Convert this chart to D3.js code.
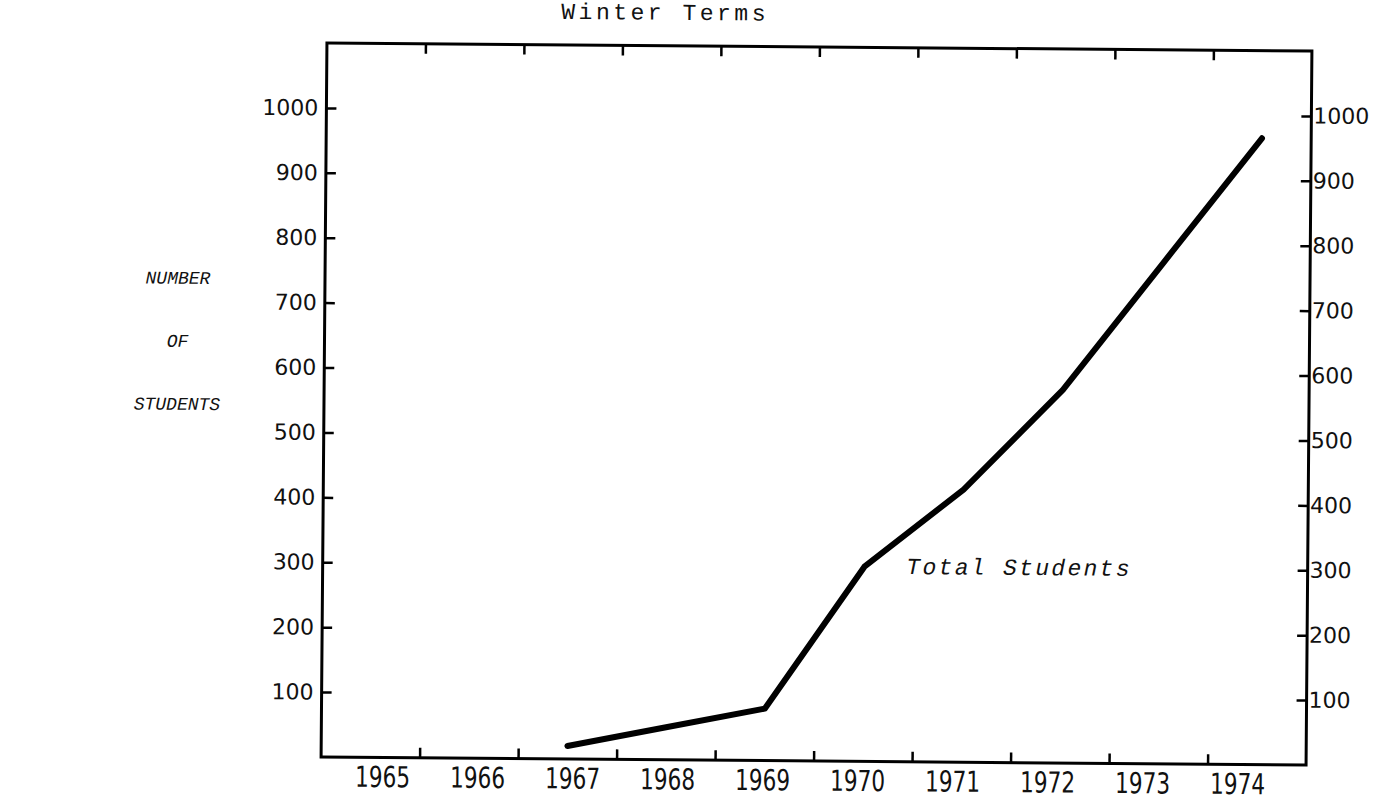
<!DOCTYPE html>
<html lang="en">
<head>
    <meta charset="UTF-8">
    <title>Winter Terms</title>
    <script src="https://d3js.org/d3.v7.min.js"></script>
    <style>
        body { margin: 0; background: #fff; }
    </style>
</head>
<body>
<script>
    // years along the bottom, one band each
    var years = ['1965', '1966', '1967', '1968', '1969', '1970', '1971', '1972', '1973', '1974'];
    // the plotted line (Total Students)
    var lineYears = ['1967', '1968', '1969', '1970', '1971', '1972', '1973', '1974'];
    var totalStudents = [20, 50, 80, 300, 420, 575, 770, 965];
    // left / right tick labels
    var yTicks = [100, 200, 300, 400, 500, 600, 700, 800, 900, 1000];

    var width = 1381
    var height = 804
    var plot = {left: 324, top: 47, width: 985, height: 714}

    var svg = d3.select('body')
            .append('svg')
            .attr('width', width)
            .attr('height', height)

    // the scanned page is a little tilted, so turn the whole drawing slightly
    var cx = plot.left + plot.width / 2
    var cy = plot.top + plot.height / 2
    var page = svg.append('g')
            .attr('transform', 'rotate(0.47,' + cx + ',' + cy + ')')

    var g = page.append('g')
            .attr('transform', 'translate(' + plot.left + ',' + plot.top + ')')

    var y = d3.scaleLinear().domain([0, 1100]).range([plot.height, 0])
    var x = d3.scaleBand().domain(years).range([0, plot.width])
    // tick marks sit on the band edges
    var xEdge = d3.scaleLinear().domain([0, years.length]).range([0, plot.width])
    var edges = d3.range(1, years.length)
    // typed year labels drift a bit narrower than the bands
    var xLabel = d3.scalePoint().domain(years)
            .range([x.bandwidth() / 2 + 12, x.bandwidth() / 2 + 12 + 95 * (years.length - 1)])

    function styleTicks(sel) {
        sel.select('.domain').remove()
        sel.selectAll('line').attr('stroke', '#000').attr('stroke-width', 2.5)
    }

    // left axis
    g.append('g')
            .call(d3.axisLeft(y).tickValues(yTicks).tickSize(-10).tickPadding(8).tickFormat(d3.format('d')))
            .call(styleTicks)
            .selectAll('text')
            .attr('fill', '#111')
            .style('font-family', '"DejaVu Sans", sans-serif')
            .style('font-size', '22px')

    // right axis
    g.append('g')
            .attr('transform', 'translate(' + plot.width + ',0)')
            .call(d3.axisRight(y).tickValues(yTicks).tickSize(-10).tickPadding(2).tickFormat(d3.format('d')))
            .call(styleTicks)
            .selectAll('text')
            .attr('fill', '#111')
            .style('font-family', '"DejaVu Sans", sans-serif')
            .style('font-size', '22px')

    // top ticks
    g.append('g')
            .call(d3.axisTop(xEdge).tickValues(edges).tickSize(-10).tickFormat(''))
            .call(styleTicks)

    // bottom ticks
    g.append('g')
            .attr('transform', 'translate(0,' + plot.height + ')')
            .call(d3.axisBottom(xEdge).tickValues(edges).tickSize(-10).tickFormat(''))
            .call(styleTicks)

    // bottom year labels (tall, narrow typewriter digits)
    g.append('g')
            .attr('transform', 'translate(0,' + plot.height + ')')
            .call(d3.axisBottom(xLabel).tickSize(0).tickPadding(9))
            .call(function(sel) { sel.select('.domain').remove() })
            .selectAll('text')
            .attr('fill', '#111')
            .attr('transform', 'scale(0.83,1)')
            .style('font-family', '"DejaVu Sans Condensed", sans-serif')
            .style('font-size', '29px')

    // frame
    g.append('rect')
            .attr('x', 0)
            .attr('y', 0)
            .attr('width', plot.width)
            .attr('height', plot.height)
            .attr('fill', 'none')
            .attr('stroke', '#000')
            .attr('stroke-width', 3)

    // the line
    var line = d3.line()
            .x(function(d, i) { return x(lineYears[i]) + x.bandwidth() / 2 })
            .y(function(d) { return y(d) })

    g.append('path')
            .datum(totalStudents)
            .attr('d', line)
            .attr('fill', 'none')
            .attr('stroke', '#000')
            .attr('stroke-width', 6)
            .attr('stroke-linejoin', 'round')
            .attr('stroke-linecap', 'round')

    // series label
    g.append('text')
            .attr('x', x('1970') + x.bandwidth() / 2 + 42)
            .attr('y', y(300) + 7)
            .attr('fill', '#111')
            .style('font-family', '"Liberation Mono", monospace')
            .style('font-style', 'italic')
            .style('font-size', '23px')
            .style('letter-spacing', '2.3px')
            .text('Total Students')

    // title
    page.append('text')
            .attr('x', 662)
            .attr('y', 21)
            .attr('text-anchor', 'middle')
            .attr('fill', '#111')
            .style('font-family', '"Liberation Mono", monospace')
            .style('font-size', '23px')
            .style('letter-spacing', '3.5px')
            .text('Winter Terms')

    // y axis caption
    var caption = ['NUMBER', 'OF', 'STUDENTS']
    page.selectAll('.caption')
            .data(caption)
            .enter()
            .append('text')
            .attr('class', 'caption')
            .attr('x', 177)
            .attr('y', function(d, i) { return 289 + i * 63 })
            .attr('text-anchor', 'middle')
            .attr('fill', '#111')
            .style('font-family', '"Liberation Mono", monospace')
            .style('font-style', 'italic')
            .style('font-size', '18px')
            .text(function(d) { return d })
</script>
</body>
</html>
